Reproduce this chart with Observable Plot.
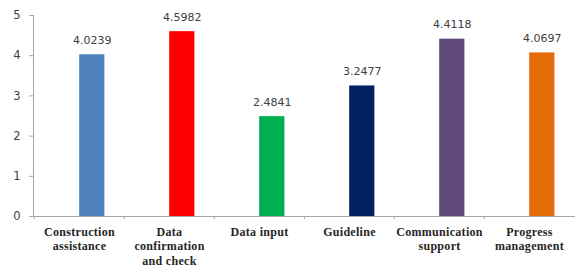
<!DOCTYPE html>
<html>
<head>
<meta charset="utf-8">
<script src="https://cdn.jsdelivr.net/npm/d3@7"></script>
<script src="https://cdn.jsdelivr.net/npm/@observablehq/plot@0.6"></script>
<style>
  html, body { margin: 0; padding: 0; background: #fff; }
  #chart svg { display: block; }
</style>
</head>
<body>
<div id="chart"></div>
<script>
const categories = ["Construction assistance", "Data confirmation and check", "Data input", "Guideline", "Communication support", "Progress management"];
const tickLabels = ["Construction\nassistance", "Data\nconfirmation\nand check", "Data input", "Guideline", "Communication\nsupport", "Progress\nmanagement"];
const values = [4.0239, 4.5982, 2.4841, 3.2477, 4.4118, 4.0697];
const colors = ["#4F81BD", "#FF0000", "#00B050", "#002060", "#604A7B", "#E36C09"];
const yTicks = [0, 1, 2, 3, 4, 5];

const data = categories.map((c, i) => ({cat: c, value: values[i], color: colors[i]}));
const axisColor = "#a6a6a6";

const chart = Plot.plot({
  width: 578,
  height: 266,
  marginLeft: 33,
  marginRight: 3,
  marginTop: 15,
  marginBottom: 50,
  style: {background: "#fff", overflow: "visible"},
  x: {type: "band", domain: categories, padding: 0, axis: null, label: null},
  y: {domain: [0, 5], axis: null, label: null},
  marks: [
    Plot.barY(data, {x: "cat", y: "value", fill: "color", insetLeft: 45.2, insetRight: 19.6}),
    Plot.text(data, {x: "cat", y: "value", text: d => d.value.toFixed(4), dx: 12.8, dy: -11, lineAnchor: "bottom",
      fontFamily: "DejaVu Sans", fontSize: 11, fill: "#404040"}),
    Plot.axisY({ticks: yTicks, tickSize: 4, tickPadding: 9, stroke: axisColor, fill: "#404040", label: null,
      fontFamily: "DejaVu Sans", fontSize: 11.5, tickFormat: d3.format("d")}),
    Plot.axisX({tickSize: 3, dx: -45.17, text: null, stroke: axisColor, anchor: "bottom", label: null}),
    Plot.axisX({tickSize: 0, tickPadding: 9, anchor: "bottom", fontFamily: "Liberation Serif", fontSize: 12, label: null,
      fontWeight: "bold", fill: "#262626", lineHeight: 1.2, tickFormat: d => tickLabels[categories.indexOf(d)]}),
    Plot.ruleY([0], {stroke: axisColor}),
    Plot.frame({anchor: "left", stroke: axisColor})
  ]
});
chart.querySelectorAll("g[font-weight='bold'] text").forEach(t => { t.style.letterSpacing = "0.3px"; });
document.getElementById("chart").appendChild(chart);
</script>
</body>
</html>
